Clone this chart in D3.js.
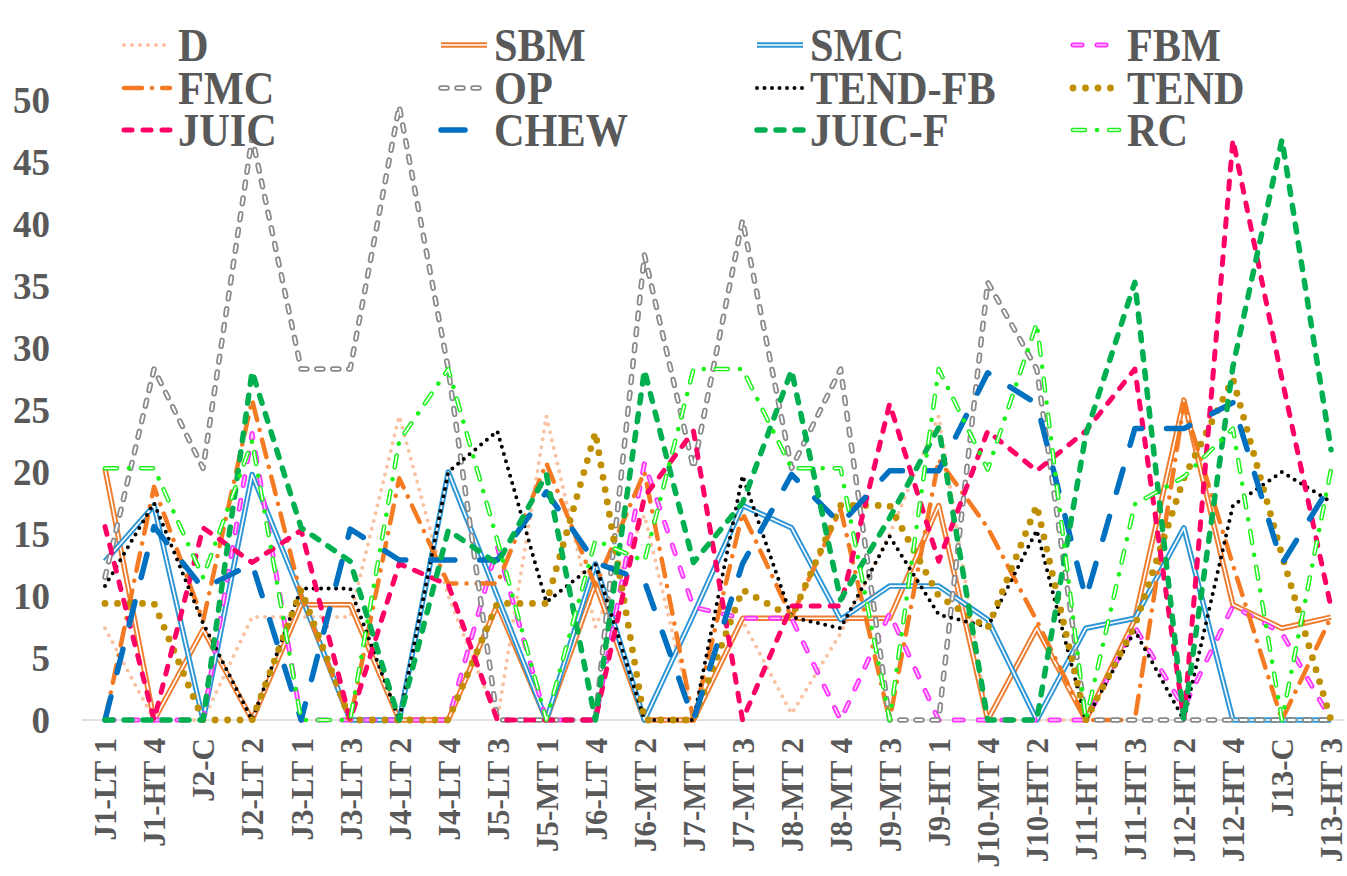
<!DOCTYPE html>
<html>
<head>
<meta charset="utf-8">
<script src="https://cdn.jsdelivr.net/npm/d3@7"></script>
<style>
body { margin: 0; background: #fff; }
text { font-family: "Liberation Serif", "Times New Roman", serif; font-weight: bold; fill: #595959; }
</style>
</head>
<body>
<div id="chart"></div>
<script>
// categories along the x axis
var categories = ["J1-LT 1", "J1-HT 4", "J2-C", "J2-LT 2", "J3-LT 1", "J3-LT 3", "J4-LT 2", "J4-LT 4",
  "J5-LT 3", "J5-MT 1", "J6-LT 4", "J6-MT 2", "J7-MT 1", "J7-MT 3", "J8-MT 2", "J8-MT 4", "J9-MT 3",
  "J9-HT 1", "J10-MT 4", "J10-HT 2", "J11-HT 1", "J11-HT 3", "J12-HT 2", "J12-HT 4", "J13-C", "J13-HT 3"];

// series values
var dVals     = [7.4, 0, 0, 8.3, 8.3, 8.3, 24.5, 10, 0, 24.5, 7.5, 16.5, 0, 8, 0.5, 7, 15, 24.5, 0, 0, 0, 0, 0, 0, 0, 0];
var sbmVals   = [20.3, 0, 7.3, 0, 9.3, 9.3, 0, 0, 9.3, 0, 11, 0, 0, 8.2, 8.2, 8.2, 8.2, 17.3, 0, 7.4, 0, 8.1, 25.8, 9.3, 7.4, 8.3];
var smcVals   = [12.8, 17.3, 0, 19.8, 10, 0, 0, 20, 10, 0, 12.6, 0, 8.5, 17.3, 15.5, 8.1, 10.8, 10.8, 8.1, 0, 7.4, 8.2, 15.5, 0, 0, 0];
var fbmVals   = [0, 0, 0, 23.1, 0, 0, 0, 0, 14, 0, 0, 20.7, 9.1, 8.2, 8.2, 0, 8.6, 0, 0, 0, 0, 7.5, 1, 9.2, 7, 0];
var fmcVals   = [0, 18.8, 8, 25.8, 10, 0, 19.5, 11, 11, 20.7, 10.8, 20, 0, 16.7, 8.3, 17, 0, 21, 15.5, 8, 0, 0, 25.5, 12.5, 0, 8.3];
var opVals    = [11.5, 28.3, 20.3, 47, 28.3, 28.3, 49.5, 28.3, 0, 0, 0, 37.5, 20.3, 40.3, 20.3, 28.3, 0, 0, 35.3, 28.3, 0, 0, 0, 0, 0, 0];
var tendFbVals = [10.8, 17.5, 7.8, 0, 10.6, 10.6, 0, 20, 23.3, 9.5, 12.6, 0, 0, 19.7, 8.3, 7.4, 14.8, 8.5, 7.5, 15.3, 0, 7.2, 0, 17.3, 20, 17.6];
var tendVals  = [9.4, 9.4, 0, 0, 10.5, 0, 0, 0, 9.4, 9.4, 23.2, 0, 0, 10.5, 8.3, 17.3, 17.3, 10, 7.4, 17.3, 0, 7.6, 19.5, 27.5, 13.3, 0];
var juicVals  = [15.6, 0, 15.5, 12.7, 15.3, 0, 12.6, 10.9, 0, 0, 0, 18, 23.3, 0, 9.2, 9.2, 25.5, 12.8, 23.3, 20.1, 23.3, 28.3, 0, 46.8, 27.5, 9.1];
var chewVals  = [0, 15.6, 10.6, 12.6, 0, 15.4, 12.9, 12.9, 12.9, 18.4, 12.7, 11.2, 0, 12.6, 19.8, 15.8, 20.1, 20.1, 28, 25.5, 9.8, 23.5, 23.5, 25.6, 12.6, 19];
var juicFVals = [0, 0, 0, 28.1, 15.5, 12.8, 0, 15.3, 12.6, 19.8, 0, 28.2, 12.7, 17.5, 28.2, 9.7, 16.3, 23.6, 0, 0, 23, 35.3, 0, 28.5, 46.8, 21.8];
var rcVals    = [20.3, 20.3, 11.5, 22.5, 0, 0, 22.5, 28.3, 14.5, 0, 14.5, 12.8, 28.3, 28.3, 20.3, 20.3, 0, 28.3, 20.2, 32, 0, 17.4, 19.6, 23.5, 0, 20.2];

var seriesNames = ["D", "SBM", "SMC", "FBM", "FMC", "OP", "TEND-FB", "TEND", "JUIC", "CHEW", "JUIC-F", "RC"];
var yTicks = [0, 5, 10, 15, 20, 25, 30, 35, 40, 45, 50];

var seriesValues = [dVals, sbmVals, smcVals, fbmVals, fmcVals, opVals, tendFbVals, tendVals, juicVals, chewVals, juicFVals, rcVals];

// line looks: each series is one or more stacked strokes
var looks = {
  "D":       [{c: "#F9C2A0", w: 4, d: "0 8"}],
  "SBM":     [{c: "#ED7D31", w: 5.5}, {c: "#fff", w: 1.6}],
  "SMC":     [{c: "#2E96D5", w: 5.5}, {c: "#fff", w: 1.6}],
  "FBM":     [{c: "#FF33FF", w: 5, d: "9 15"}, {c: "#FFC6FF", w: 1.6, d: "9 15"}],
  "FMC":     [{c: "#F47B22", w: 4.5, d: "18 10 0.1 10"}],
  "OP":      [{c: "#8A8A8A", w: 5.5, d: "6 10"}, {c: "#fff", w: 2, d: "6 10"}],
  "TEND-FB": [{c: "#000", w: 4, d: "0 7.5"}],
  "TEND":    [{c: "#BF8F00", w: 6.8, d: "0 12.5"}],
  "JUIC":    [{c: "#FF0066", w: 5, d: "8 11"}],
  "CHEW":    [{c: "#0070C0", w: 5.5, d: "24 25"}],
  "JUIC-F":  [{c: "#00B050", w: 5.5, d: "8 11"}],
  "RC":      [{c: "#1AF21A", w: 4.5, d: "12 12 0.1 12"}, {c: "#fff", w: 1.6, d: "12 24.1"}]
};

var svgWidth = 1347;
var svgHeight = 876;

var svg = d3.select("#chart")
  .append("svg")
  .attr("width", svgWidth)
  .attr("height", svgHeight);

var x = d3.scalePoint()
  .domain(categories)
  .range([105, 1331]);

var y = d3.scaleLinear()
  .domain([0, 50])
  .range([720, 100]);

// y tick labels (no axis line in the original)
svg.append("g").selectAll("text")
  .data(yTicks)
  .enter()
  .append("text")
  .attr("x", 50)
  .attr("y", d => y(d))
  .attr("dy", "0.35em")
  .attr("text-anchor", "end")
  .style("font-size", "37px")
  .text(d => d);

// category axis
var bottomAxis = d3.axisBottom(x).tickSize(0).tickPadding(0);
var xAxis = svg.append("g")
  .attr("transform", `translate(0, ${y(0)})`)
  .call(bottomAxis);
xAxis.select(".domain")
  .attr("d", "M82,0H1345")
  .attr("stroke", "#D9D9D9")
  .attr("stroke-width", 1.5);
xAxis.selectAll("text")
  .attr("transform", "rotate(-90)")
  .attr("x", -18)
  .attr("y", 0)
  .attr("dy", "0.35em")
  .attr("text-anchor", "end")
  .attr("fill", null)
  .style("font-size", "31px")
  .style("font-family", null);

var line = d3.line()
  .x((d, i) => x(categories[i]))
  .y(d => y(d));

function drawStrokes(g, dAttr, layers) {
  layers.forEach(function(l) {
    g.append("path")
      .attr("d", dAttr)
      .attr("fill", "none")
      .attr("stroke", l.c)
      .attr("stroke-width", l.w)
      .attr("stroke-linecap", l.d ? "round" : "butt")
      .attr("stroke-linejoin", "round")
      .attr("stroke-dasharray", l.d || null);
  });
}

// series lines
var linesGroup = svg.append("g");
seriesNames.forEach(function(name, k) {
  drawStrokes(linesGroup.append("g"), line(seriesValues[k]), looks[name]);
});

// legend, 4 columns x 3 rows
var sampleX = [124, 441, 757, 1073];
var textX = [178, 494, 810, 1127];
var rowY = [45, 88, 130];
var legend = svg.append("g");
seriesNames.forEach(function(name, k) {
  var col = k % 4, row = Math.floor(k / 4);
  var ly = rowY[row];
  drawStrokes(legend.append("g"), `M${sampleX[col]},${ly}H${sampleX[col] + 46}`, looks[name]);
  legend.append("text")
    .attr("transform", `translate(${textX[col]}, ${ly}) scale(0.9, 1)`)
    .attr("dy", "0.35em")
    .style("font-size", "47px")
    .text(name);
});
</script>
</body>
</html>
